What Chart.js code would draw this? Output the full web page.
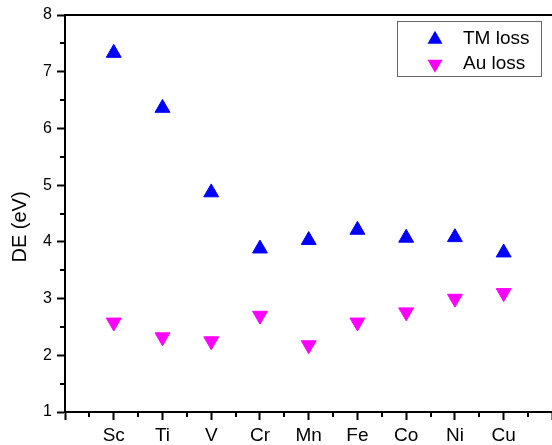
<!DOCTYPE html>
<html>
<head>
<meta charset="utf-8">
<script src="https://cdn.jsdelivr.net/npm/chart.js@4/dist/chart.umd.min.js"></script>
<style>
  html, body { margin: 0; padding: 0; background: #fff; overflow: hidden; }
  canvas { display: block; }
</style>
</head>
<body>
<canvas id="deChart" width="562" height="445"></canvas>
<script>
const categories = ["Sc", "Ti", "V", "Cr", "Mn", "Fe", "Co", "Ni", "Cu"];
const tmLoss = [7.33, 6.36, 4.87, 3.88, 4.03, 4.21, 4.07, 4.08, 3.81];
const auLoss = [2.58, 2.32, 2.25, 2.70, 2.18, 2.58, 2.76, 3.00, 3.10];
const yTicks = [1, 2, 3, 4, 5, 6, 7, 8];

const FONT = "'Liberation Sans', Arial, sans-serif";

function toPoints(values) {
  return values.map((v, i) => ({ x: i, y: v }));
}

function isMinor(v) {
  return !Number.isInteger(v);
}

// triangle with the same geometry as Chart.js pointStyle 'triangle'
function triangle(ctx, x, y, r, down, color) {
  const s = down ? -1 : 1;
  ctx.beginPath();
  ctx.moveTo(x, y - s * r);
  ctx.lineTo(x + 0.866 * r, y + s * r / 2);
  ctx.lineTo(x - 0.866 * r, y + s * r / 2);
  ctx.closePath();
  ctx.fillStyle = color;
  ctx.fill();
}

const extras = {
  id: "extras",
  afterDraw(chart) {
    const ctx = chart.ctx;
    const area = chart.chartArea;
    const xs = chart.scales.x;
    const ys = chart.scales.y;
    ctx.save();
    ctx.strokeStyle = "#000";
    ctx.lineWidth = 2;

    // top frame line
    ctx.beginPath();
    ctx.moveTo(area.left - 1, area.top);
    ctx.lineTo(chart.width, area.top);
    ctx.stroke();

    // minor ticks
    ctx.beginPath();
    xs.ticks.forEach(t => {
      if (isMinor(t.value)) {
        const px = Math.round(xs.getPixelForValue(t.value));
        ctx.moveTo(px, area.bottom);
        ctx.lineTo(px, area.bottom + 5);
      }
    });
    ys.ticks.forEach(t => {
      if (isMinor(t.value)) {
        const py = Math.round(ys.getPixelForValue(t.value));
        ctx.moveTo(area.left, py);
        ctx.lineTo(area.left - 5, py);
      }
    });
    ctx.stroke();

    // y axis title
    ctx.fillStyle = "#000";
    ctx.font = "20px " + FONT;
    ctx.textAlign = "center";
    ctx.textBaseline = "middle";
    ctx.translate(20, 227);
    ctx.rotate(-Math.PI / 2);
    ctx.fillText("DE (eV)", 0, 0);
    ctx.restore();

    // legend box
    ctx.save();
    ctx.fillStyle = "#fff";
    ctx.fillRect(397.5, 21.5, 144, 55);
    ctx.strokeStyle = "#666";
    ctx.lineWidth = 1;
    ctx.strokeRect(397.5, 21.5, 144, 55);
    triangle(ctx, 435, 39.5, 8.7, false, "#0000ff");
    triangle(ctx, 435, 64, 8.7, true, "#ff00ff");
    ctx.fillStyle = "#000";
    ctx.font = "19px " + FONT;
    ctx.textAlign = "left";
    ctx.textBaseline = "middle";
    ctx.fillText("TM loss", 463, 39);
    ctx.fillText("Au loss", 463, 64);
    ctx.restore();
  }
};

new Chart(document.getElementById("deChart").getContext("2d"), {
  type: "scatter",
  data: {
    datasets: [
      {
        label: "TM loss",
        data: toPoints(tmLoss),
        pointStyle: "triangle",
        pointRadius: 8.6,
        pointBorderWidth: 1,
        backgroundColor: "#0000ff",
        borderColor: "#0000ff"
      },
      {
        label: "Au loss",
        data: toPoints(auLoss),
        pointStyle: "triangle",
        rotation: 180,
        pointRadius: 8.6,
        pointBorderWidth: 1,
        backgroundColor: "#ff00ff",
        borderColor: "#ff00ff"
      }
    ]
  },
  options: {
    responsive: false,
    animation: false,
    devicePixelRatio: 1,
    layout: { padding: { top: 15, right: 2, left: 0, bottom: 0 } },
    plugins: {
      legend: { display: false },
      tooltip: { enabled: false }
    },
    scales: {
      x: {
        type: "linear",
        min: -1,
        max: 9,
        afterFit: s => { s.height = 33; },
        border: { color: "#000", width: 2 },
        grid: {
          drawOnChartArea: false,
          drawTicks: true,
          tickLength: 8,
          tickWidth: 2,
          tickColor: c => (c.tick && isMinor(c.tick.value)) ? "rgba(0,0,0,0)" : "#000"
        },
        ticks: {
          stepSize: 0.5,
          autoSkip: false,
          maxRotation: 0,
          padding: 4,
          color: "#000",
          font: { family: FONT, size: 19 },
          callback: v => (Number.isInteger(v) && v >= 0 && v < categories.length) ? categories[v] : ""
        }
      },
      y: {
        min: yTicks[0],
        max: yTicks[yTicks.length - 1],
        afterFit: s => { s.width = 65; },
        border: { color: "#000", width: 2 },
        grid: {
          drawOnChartArea: false,
          drawTicks: true,
          tickLength: 8,
          tickWidth: 2,
          tickColor: c => (c.tick && isMinor(c.tick.value)) ? "rgba(0,0,0,0)" : "#000"
        },
        ticks: {
          stepSize: 0.5,
          autoSkip: false,
          padding: 5,
          color: "#000",
          font: { family: FONT, size: 16 },
          callback: v => yTicks.includes(v) ? String(v) : ""
        }
      }
    }
  },
  plugins: [extras]
});
</script>
</body>
</html>
